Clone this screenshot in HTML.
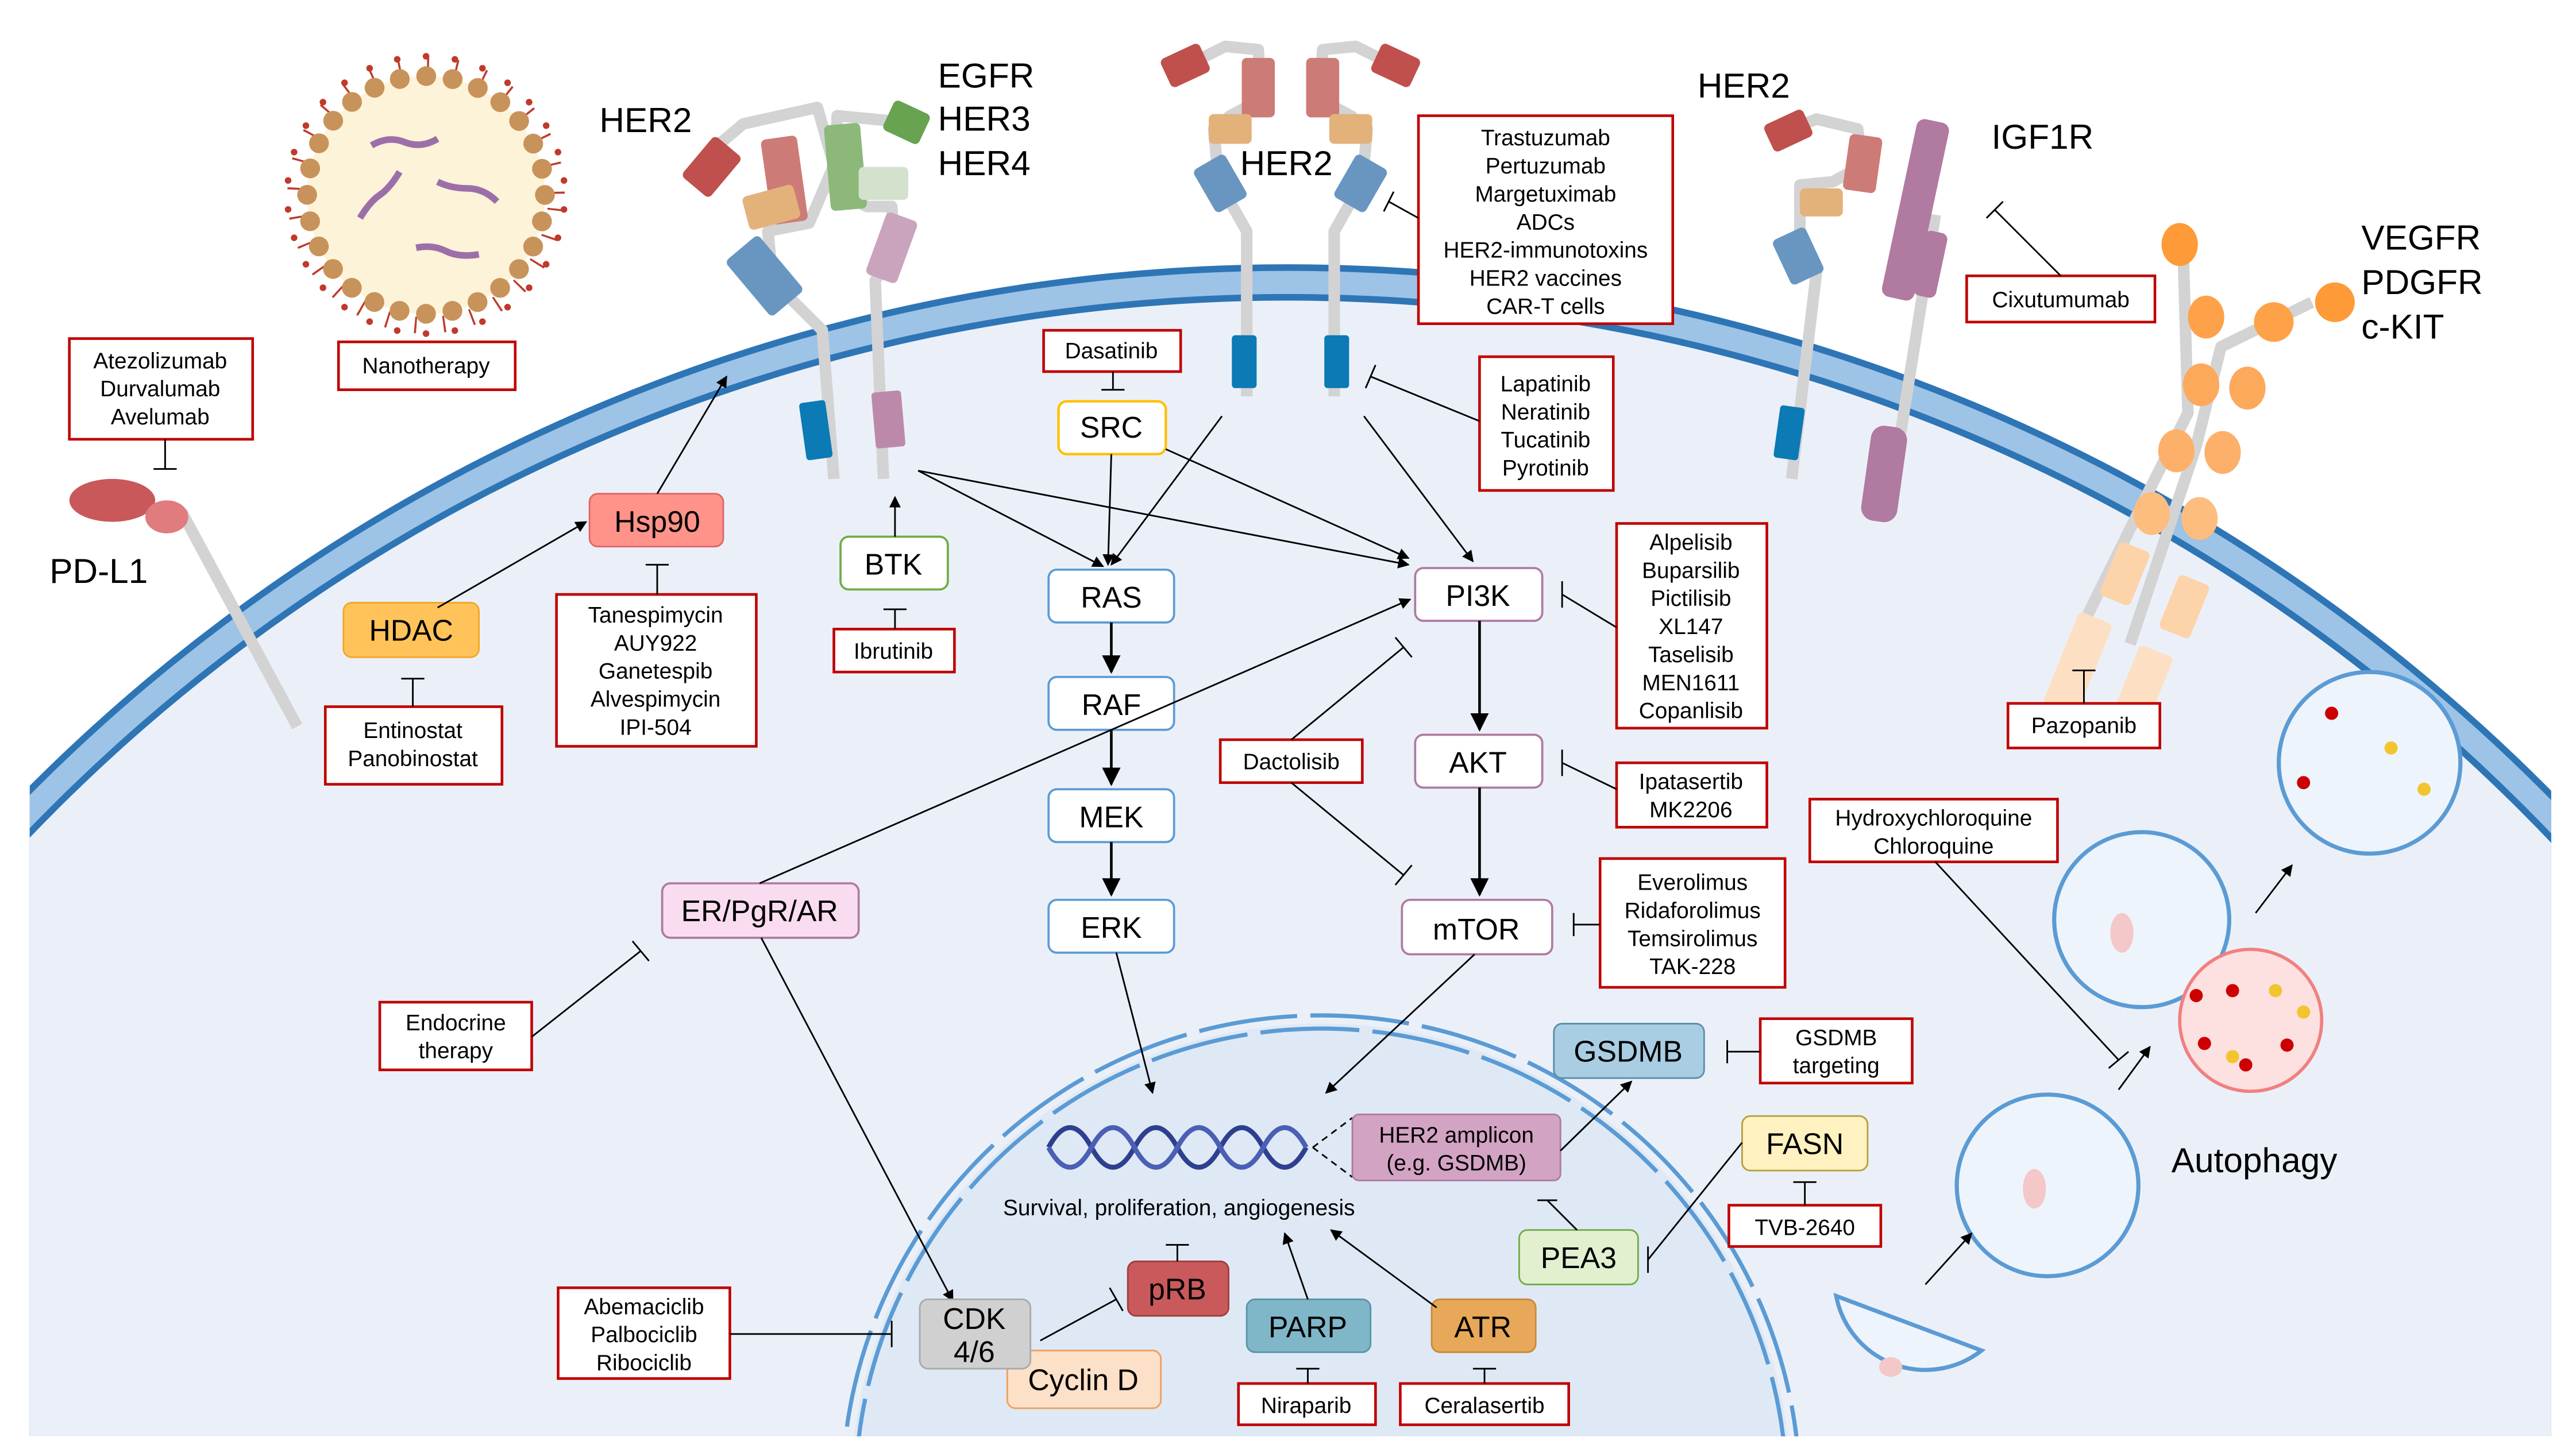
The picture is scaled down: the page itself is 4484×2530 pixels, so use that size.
<!DOCTYPE html>
<html><head><meta charset="utf-8"><style>
html,body{margin:0;padding:0;background:#fff;overflow:hidden;width:4484px;height:2530px}
svg{display:block}
text{font-family:"Liberation Sans",Arial,sans-serif;fill:#000}
.bx{fill:#fff;stroke:#c00000;stroke-width:1.6}
.t{font-size:13.5px;text-anchor:middle}
.n{font-size:18px;text-anchor:middle}
.big{font-size:21px}
.ln{stroke:#000;stroke-width:1;fill:none}
.lt{stroke:#000;stroke-width:1.6;fill:none}
.st{stroke:#d3d3d3;stroke-width:7;fill:none;stroke-linejoin:round}
</style></head><body>
<svg width="4484" height="2530" viewBox="0 0 1560 880" xmlns="http://www.w3.org/2000/svg">
<defs>
<marker id="a" viewBox="0 0 10 10" refX="9" refY="5" markerWidth="7" markerHeight="7" orient="auto-start-reverse"><path d="M0,0L10,5L0,10z" fill="#000"/></marker>
<clipPath id="cl"><rect x="18" y="0" width="1527" height="870"/></clipPath>
<clipPath id="cl2"><rect x="0" y="0" width="1560" height="870"/></clipPath>
</defs>

<!-- cell -->
<g clip-path="url(#cl)">
<circle cx="780" cy="1237" r="1077" fill="#2e75b6"/>
<circle cx="780" cy="1237" r="1073" fill="#9dc3e6"/>
<circle cx="780" cy="1237" r="1059" fill="#2e75b6"/>
<circle cx="780" cy="1237" r="1055" fill="#ebf0f8"/>
</g>
<!-- nucleus -->
<g clip-path="url(#cl2)">
<circle cx="800" cy="905" r="285" fill="#dfe9f5"/>
<circle cx="800" cy="905" r="290" fill="none" stroke="#5b9bd5" stroke-width="2.5" stroke-dasharray="60 8"/>
<circle cx="800" cy="905" r="282" fill="none" stroke="#5b9bd5" stroke-width="2.5" stroke-dasharray="60 8"/>
</g>

<!-- nanoparticle -->
<circle cx="258" cy="118" r="72" fill="#fdf3d8"/>
<circle cx="258" cy="118" r="79" fill="none" stroke="#c0392b" stroke-width="10" stroke-dasharray="1.2 16.16" transform="rotate(6 258 118)"/>
<circle cx="258" cy="118" r="84" fill="none" stroke="#c0392b" stroke-width="4" stroke-linecap="round" stroke-dasharray="0 17.59" transform="rotate(6 258 118)"/>
<circle cx="258" cy="118" r="72" fill="none" stroke="#c8935a" stroke-width="12" stroke-linecap="round" stroke-dasharray="0 16.157"/>
<g stroke="#9d6fa8" stroke-width="4" fill="none">
<path d="M225,88 q10,-6 20,-2 t20,-2"/>
<path d="M218,132 q6,-10 12,-14 t12,-14"/>
<path d="M265,110 q8,4 18,4 t18,8"/>
<path d="M252,150 q10,-2 18,2 t20,2"/>
</g>
<rect class="bx" x="205" y="207" width="107" height="29"/><text class="t" x="258" y="226">Nanotherapy</text>

<!-- PD-L1 -->
<path d="M110,310 L180,440" class="st" stroke-width="8"/>
<ellipse cx="68" cy="303" rx="26" ry="13" fill="#c9585b"/>
<ellipse cx="101" cy="313" rx="13" ry="10" fill="#e07b7e"/>
<text class="big" x="30" y="353">PD-L1</text>
<rect class="bx" x="42" y="205" width="111" height="61"/>
<text class="t" x="97" y="223">Atezolizumab</text><text class="t" x="97" y="240">Durvalumab</text><text class="t" x="97" y="257">Avelumab</text>
<path class="ln" d="M100,266V284M93,284H107"/>

<!-- left HER2 / EGFR -->
<path class="st" d="M430,92 L450,75 L495,65 L505,100 L490,135 L465,140 L468,170 L498,200 L505,290"/>
<path class="st" d="M538,73 L507,70 L505,115 L525,125 L540,125 L542,150 L530,170 L535,290"/>
<rect x="420" y="85" width="22" height="32" rx="3" fill="#c0504d" transform="rotate(40 431 101)"/>
<rect x="464" y="83" width="22" height="52" rx="3" fill="#cd7b76" transform="rotate(-8 475 109)"/>
<rect x="451" y="115" width="32" height="21" rx="3" fill="#e3b27b" transform="rotate(-15 467 125)"/>
<rect x="450" y="145" width="26" height="44" rx="3" fill="#6996c1" transform="rotate(-40 463 167)"/>
<rect x="486" y="243" width="16" height="35" rx="2" fill="#0b7ab5" transform="rotate(-8 494 260)"/>
<rect x="501" y="75" width="22" height="52" rx="3" fill="#8cb87a" transform="rotate(-5 512 101)"/>
<rect x="537" y="64" width="24" height="20" rx="3" fill="#68a352" transform="rotate(25 549 74)"/>
<rect x="520" y="101" width="30" height="20" rx="3" fill="#d4e2cd"/>
<rect x="530" y="130" width="20" height="40" rx="3" fill="#c9a4bc" transform="rotate(20 540 150)"/>
<rect x="529" y="237" width="18" height="34" rx="2" fill="#bd89aa" transform="rotate(-5 538 254)"/>
<text class="big" x="363" y="80">HER2</text>
<text class="big" x="568" y="53">EGFR</text><text class="big" x="568" y="79">HER3</text><text class="big" x="568" y="106">HER4</text>

<!-- middle HER2 dimer -->
<g id="mh">
<path class="st" d="M718,40 L742,28 L762,30 L764,60 L745,70 L735,78 L738,110 L755,140 L755,240"/>
<rect x="705" y="30" width="26" height="19" rx="3" fill="#c0504d" transform="rotate(-25 718 40)"/>
<rect x="752" y="35" width="20" height="36" rx="3" fill="#cd7b76"/>
<rect x="732" y="69" width="26" height="18" rx="3" fill="#e3b27b"/>
<rect x="728" y="96" width="22" height="30" rx="3" fill="#6996c1" transform="rotate(-30 739 111)"/>
<rect x="746" y="203" width="15" height="32" rx="2" fill="#0b7ab5"/>
</g>
<use href="#mh" transform="translate(1563 0) scale(-1 1)"/>
<text class="big" x="751" y="106">HER2</text>

<!-- right HER2 -->
<path class="st" d="M1080,80 L1100,72 L1125,78 L1128,100 L1110,110 L1090,112 L1090,140 L1100,165 L1085,290"/>
<rect x="1070" y="70" width="26" height="18" rx="3" fill="#c0504d" transform="rotate(-25 1083 79)"/>
<rect x="1118" y="82" width="20" height="34" rx="3" fill="#cd7b76" transform="rotate(8 1128 99)"/>
<rect x="1090" y="114" width="26" height="17" rx="3" fill="#e3b27b"/>
<rect x="1078" y="140" width="22" height="30" rx="3" fill="#6996c1" transform="rotate(-25 1089 155)"/>
<rect x="1076" y="246" width="15" height="32" rx="2" fill="#0b7ab5" transform="rotate(8 1083 262)"/>
<text class="big" x="1028" y="59">HER2</text>

<!-- IGF1R -->
<path class="st" d="M1172,130 L1145,300"/>
<rect x="1150" y="72" width="20" height="110" rx="5" fill="#b07aa1" transform="rotate(12 1160 127)"/>
<rect x="1162" y="140" width="14" height="40" rx="4" fill="#b07aa1" transform="rotate(12 1169 160)"/>
<rect x="1130" y="258" width="22" height="58" rx="8" fill="#b07aa1" transform="rotate(8 1141 287)"/>
<text class="big" x="1206" y="90">IGF1R</text>
<rect class="bx" x="1191" y="167" width="114" height="28"/><text class="t" x="1248" y="186">Cixutumumab</text>
<path class="ln" d="M1248,167L1208,127M1203,132L1213,122"/>

<!-- VEGFR -->
<path class="st" d="M1322,148 L1325,250 L1300,300 L1258,385"/>
<path class="st" d="M1400,183 L1345,210 L1330,270 L1290,390"/>
<g fill="#fdbd7e">
<ellipse cx="1320" cy="148" rx="11" ry="13" fill="#fe9a37"/>
<ellipse cx="1336" cy="192" rx="11" ry="13" fill="#fea24a"/>
<ellipse cx="1333" cy="233" rx="11" ry="13" fill="#fda95c"/>
<ellipse cx="1318" cy="273" rx="11" ry="13" fill="#fdb06a"/>
<ellipse cx="1303" cy="311" rx="11" ry="13"/>
<ellipse cx="1414" cy="183" rx="12" ry="12" fill="#fe9a37"/>
<ellipse cx="1377" cy="195" rx="12" ry="12" fill="#fea24a"/>
<ellipse cx="1361" cy="235" rx="11" ry="13" fill="#fda95c"/>
<ellipse cx="1346" cy="274" rx="11" ry="13" fill="#fdb06a"/>
<ellipse cx="1332" cy="314" rx="11" ry="13"/>
</g>
<g fill="#fdd3aa">
<rect x="1277" y="330" width="20" height="35" rx="3" transform="rotate(22 1287 347)"/>
<rect x="1313" y="350" width="20" height="35" rx="3" transform="rotate(22 1323 367)"/>
</g>
<g fill="#fde0c4">
<rect x="1264" y="368" width="22" height="60" rx="3" transform="rotate(22 1275 398) translate(-14 10)"/>
<rect x="1300" y="390" width="22" height="60" rx="3" transform="rotate(22 1311 420) translate(-14 8)"/>
</g>
<text class="big" x="1430" y="151">VEGFR</text><text class="big" x="1430" y="178">PDGFR</text><text class="big" x="1430" y="205">c-KIT</text>
<rect class="bx" x="1216" y="426" width="92" height="27"/><text class="t" x="1262" y="444">Pazopanib</text>
<path class="ln" d="M1262,426V406M1255,406H1269"/>

<!-- Trastuzumab, Lapatinib -->
<rect class="bx" x="859" y="70" width="154" height="126"/>
<text class="t" x="936" y="88">Trastuzumab</text><text class="t" x="936" y="105">Pertuzumab</text><text class="t" x="936" y="122">Margetuximab</text><text class="t" x="936" y="139">ADCs</text><text class="t" x="936" y="156">HER2-immunotoxins</text><text class="t" x="936" y="173">HER2 vaccines</text><text class="t" x="936" y="190">CAR-T cells</text>
<path class="ln" d="M859,132L841,122M838,128L844,116"/>
<rect class="bx" x="896" y="216" width="81" height="81"/>
<text class="t" x="936" y="237">Lapatinib</text><text class="t" x="936" y="254">Neratinib</text><text class="t" x="936" y="271">Tucatinib</text><text class="t" x="936" y="288">Pyrotinib</text>
<path class="ln" d="M896,255L830,228M833,221L827,235"/>

<!-- Dasatinib / SRC -->
<rect class="bx" x="632" y="200" width="83" height="25"/><text class="t" x="673" y="217">Dasatinib</text>
<path class="ln" d="M674,225V236M667,236H681"/>
<rect x="641" y="243" width="65" height="32" rx="5" fill="#fff" stroke="#ffc000" stroke-width="1.5"/><text class="n" x="673" y="265">SRC</text>

<!-- Hsp90, HDAC -->
<rect x="208" y="365" width="82" height="33" rx="5" fill="#ffc35a" stroke="#f5a623"/><text class="n" x="249" y="388">HDAC</text>
<rect class="bx" x="197" y="428" width="107" height="47"/><text class="t" x="250" y="447">Entinostat</text><text class="t" x="250" y="464">Panobinostat</text>
<path class="ln" d="M250,428V411M243,411H257"/>
<rect x="357" y="299" width="81" height="32" rx="5" fill="#ff938a" stroke="#e06666"/><text class="n" x="398" y="322">Hsp90</text>
<path class="ln" d="M265,368L355,316" marker-end="url(#a)"/>
<path class="ln" d="M398,299L440,228" marker-end="url(#a)"/>
<rect class="bx" x="337" y="360" width="121" height="92"/>
<text class="t" x="397" y="377">Tanespimycin</text><text class="t" x="397" y="394">AUY922</text><text class="t" x="397" y="411">Ganetespib</text><text class="t" x="397" y="428">Alvespimycin</text><text class="t" x="397" y="445">IPI-504</text>
<path class="ln" d="M398,360V342M391,342H405"/>

<!-- BTK -->
<rect x="509" y="325" width="65" height="32" rx="5" fill="#fff" stroke="#70ad47" stroke-width="1.3"/><text class="n" x="541" y="348">BTK</text>
<path class="ln" d="M542,325V301" marker-end="url(#a)"/>
<rect class="bx" x="505" y="381" width="73" height="26"/><text class="t" x="541" y="399">Ibrutinib</text>
<path class="ln" d="M542,381V369M535,369H549"/>

<!-- MAPK -->
<g fill="#fff" stroke="#5b9bd5" stroke-width="1.3">
<rect x="635" y="345" width="76" height="32" rx="5"/>
<rect x="635" y="410" width="76" height="32" rx="5"/>
<rect x="635" y="478" width="76" height="32" rx="5"/>
<rect x="635" y="545" width="76" height="32" rx="5"/>
</g>
<text class="n" x="673" y="368">RAS</text><text class="n" x="673" y="433">RAF</text><text class="n" x="673" y="501">MEK</text><text class="n" x="673" y="568">ERK</text>
<path class="lt" d="M673,377V407" marker-end="url(#a)"/><path class="lt" d="M673,442V475" marker-end="url(#a)"/><path class="lt" d="M673,510V542" marker-end="url(#a)"/>

<!-- PI3K -->
<g fill="#fff" stroke="#b07aa1" stroke-width="1.3">
<rect x="857" y="344" width="77" height="32" rx="5"/>
<rect x="857" y="445" width="77" height="32" rx="5"/>
<rect x="849" y="545" width="91" height="33" rx="5"/>
</g>
<text class="n" x="895" y="367">PI3K</text><text class="n" x="895" y="468">AKT</text><text class="n" x="894" y="569">mTOR</text>
<path class="lt" d="M896,376V442" marker-end="url(#a)"/><path class="lt" d="M896,477V542" marker-end="url(#a)"/>

<!-- upstream lines -->
<path class="ln" d="M556,285L668,343" marker-end="url(#a)"/>
<path class="ln" d="M556,285L853,342" marker-end="url(#a)"/>
<path class="ln" d="M673,275L671,342" marker-end="url(#a)"/>
<path class="ln" d="M706,272L853,338" marker-end="url(#a)"/>
<path class="ln" d="M740,252L673,342" marker-end="url(#a)"/>
<path class="ln" d="M826,252L892,340" marker-end="url(#a)"/>

<!-- inhibitor boxes right -->
<rect class="bx" x="979" y="317" width="91" height="124"/>
<text class="t" x="1024" y="333">Alpelisib</text><text class="t" x="1024" y="350">Buparsilib</text><text class="t" x="1024" y="367">Pictilisib</text><text class="t" x="1024" y="384">XL147</text><text class="t" x="1024" y="401">Taselisib</text><text class="t" x="1024" y="418">MEN1611</text><text class="t" x="1024" y="435">Copanlisib</text>
<path class="ln" d="M979,380L946,360M946,352V368"/>
<rect class="bx" x="979" y="462" width="91" height="39"/><text class="t" x="1024" y="478">Ipatasertib</text><text class="t" x="1024" y="495">MK2206</text>
<path class="ln" d="M979,478L946,462M946,454V470"/>
<rect class="bx" x="969" y="520" width="112" height="78"/>
<text class="t" x="1025" y="539">Everolimus</text><text class="t" x="1025" y="556">Ridaforolimus</text><text class="t" x="1025" y="573">Temsirolimus</text><text class="t" x="1025" y="590">TAK-228</text>
<path class="ln" d="M969,560H953M953,553V567"/>
<rect class="bx" x="739" y="448" width="86" height="26"/><text class="t" x="782" y="466">Dactolisib</text>
<path class="ln" d="M782,448L850,392M845,386L855,398"/>
<path class="ln" d="M782,474L850,530M845,536L855,524"/>

<!-- ER -->
<rect x="401" y="535" width="119" height="33" rx="5" fill="#fadcf0" stroke="#b07aa1" stroke-width="1.3"/><text class="n" x="460" y="558">ER/PgR/AR</text>
<path class="ln" d="M460,535L854,363" marker-end="url(#a)"/>
<path class="ln" d="M461,568L577,788" marker-end="url(#a)"/>
<rect class="bx" x="230" y="607" width="92" height="41"/><text class="t" x="276" y="624">Endocrine</text><text class="t" x="276" y="641">therapy</text>
<path class="ln" d="M322,628L388,576M383,570L393,582"/>

<!-- to nucleus -->
<path class="ln" d="M676,577L698,662" marker-end="url(#a)"/>
<path class="ln" d="M893,578L803,662" marker-end="url(#a)"/>

<!-- DNA -->
<g stroke="#2f3f8f" stroke-width="3" fill="none">
<path d="M635,695 q13,-24 26,0 t26,0 t26,0 t26,0 t26,0 t26,0"/>
<path d="M635,695 q13,24 26,0 t26,0 t26,0 t26,0 t26,0 t26,0" stroke="#4a5fb5"/>
</g>
<path d="M795,695L819,677M795,695L819,713" stroke="#000" stroke-width="1" stroke-dasharray="4 3"/>
<rect x="819" y="675" width="126" height="40" rx="4" fill="#d3a3c4" stroke="#b07aa1"/>
<text class="t" x="882" y="692">HER2 amplicon</text><text class="t" x="882" y="709">(e.g. GSDMB)</text>
<text class="t" x="714" y="736">Survival, proliferation, angiogenesis</text>

<rect x="941" y="620" width="91" height="33" rx="5" fill="#a9cde3" stroke="#5b8fa8"/><text class="n" x="986" y="643">GSDMB</text>
<path class="ln" d="M945,697L988,655" marker-end="url(#a)"/>
<rect class="bx" x="1066" y="617" width="92" height="39"/><text class="t" x="1112" y="633">GSDMB</text><text class="t" x="1112" y="650">targeting</text>
<path class="ln" d="M1066,637H1046M1046,630V644"/>
<rect x="1055" y="676" width="76" height="33" rx="5" fill="#fff2c0" stroke="#b8a040"/><text class="n" x="1093" y="699">FASN</text>
<rect class="bx" x="1047" y="730" width="92" height="25"/><text class="t" x="1093" y="748">TVB-2640</text>
<path class="ln" d="M1093,730V716M1086,716H1100"/>
<rect x="920" y="745" width="72" height="33" rx="5" fill="#e2f0d0" stroke="#70ad47"/><text class="n" x="956" y="768">PEA3</text>
<path class="ln" d="M1055,692L998,763M998,755V771"/>
<path class="ln" d="M955,745L937,727M931,727H943"/>

<rect x="683" y="764" width="61" height="33" rx="5" fill="#c9595b" stroke="#a04040"/><text class="n" x="713" y="787">pRB</text>
<path class="ln" d="M713,764V754M706,754H720"/>
<rect x="755" y="787" width="75" height="32" rx="5" fill="#7fb7c9" stroke="#5b95a8"/><text class="n" x="792" y="810">PARP</text>
<rect x="867" y="787" width="63" height="32" rx="5" fill="#e8a85a" stroke="#c88a3a"/><text class="n" x="898" y="810">ATR</text>
<path class="ln" d="M792,787L778,747" marker-end="url(#a)"/>
<path class="ln" d="M870,792L806,745" marker-end="url(#a)"/>
<rect class="bx" x="750" y="838" width="83" height="25"/><text class="t" x="791" y="856">Niraparib</text>
<path class="ln" d="M792,838V829M785,829H799"/>
<rect class="bx" x="848" y="838" width="102" height="25"/><text class="t" x="899" y="856">Ceralasertib</text>
<path class="ln" d="M899,838V829M892,829H906"/>

<rect x="610" y="818" width="93" height="35" rx="5" fill="#fde0c8" stroke="#f0a060"/><text class="n" x="656" y="842">Cyclin D</text>
<rect x="557" y="787" width="67" height="42" rx="5" fill="#d0d0d0" stroke="#aaa"/><text class="n" x="590" y="805">CDK</text><text class="n" x="590" y="825">4/6</text>
<path class="ln" d="M630,812L676,787M672,780L680,794"/>
<rect class="bx" x="338" y="780" width="104" height="55"/><text class="t" x="390" y="796">Abemaciclib</text><text class="t" x="390" y="813">Palbociclib</text><text class="t" x="390" y="830">Ribociclib</text>
<path class="ln" d="M442,808H540M540,800V816"/>

<!-- autophagy -->
<rect class="bx" x="1096" y="484" width="150" height="38"/><text class="t" x="1171" y="500">Hydroxychloroquine</text><text class="t" x="1171" y="517">Chloroquine</text>
<path class="ln" d="M1172,522L1283,642M1277,647L1289,637"/>
<g stroke="#5b9bd5" stroke-width="2.5" fill="#eef4fb">
<circle cx="1435" cy="462" r="55"/>
<circle cx="1297" cy="557" r="53"/>
<circle cx="1240" cy="718" r="55"/>
<path d="M1112,785 A55,55 0 0 0 1200,818 Z"/>
</g>
<circle cx="1363" cy="618" r="43" fill="#fde0e0" stroke="#f08080" stroke-width="2"/>
<g fill="#c00">
<circle cx="1412" cy="432" r="4"/><circle cx="1395" cy="474" r="4"/><circle cx="1330" cy="603" r="4"/><circle cx="1352" cy="600" r="4"/><circle cx="1335" cy="632" r="4"/><circle cx="1385" cy="633" r="4"/><circle cx="1360" cy="645" r="4"/>
</g>
<g fill="#f2c530">
<circle cx="1448" cy="453" r="4"/><circle cx="1468" cy="478" r="4"/><circle cx="1378" cy="600" r="4"/><circle cx="1395" cy="613" r="4"/><circle cx="1352" cy="640" r="4"/>
</g>
<ellipse cx="1285" cy="565" rx="7" ry="12" fill="#f4c8c8"/>
<ellipse cx="1232" cy="720" rx="7" ry="12" fill="#f4c8c8"/>
<ellipse cx="1145" cy="828" rx="7" ry="6" fill="#f4c8c8"/>
<path class="ln" d="M1166,778L1194,747" marker-end="url(#a)"/>
<path class="ln" d="M1283,660L1302,634" marker-end="url(#a)"/>
<path class="ln" d="M1366,553L1388,524" marker-end="url(#a)"/>
<text class="big" x="1315" y="710">Autophagy</text>
</svg>
</body></html>
